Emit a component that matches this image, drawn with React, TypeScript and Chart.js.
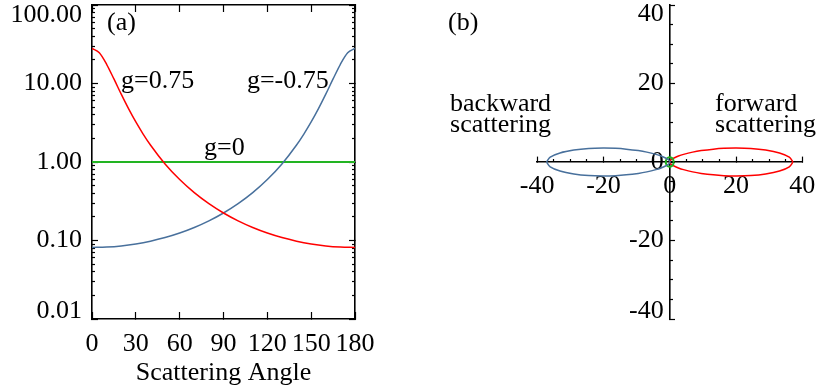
import React, { useEffect, useRef } from 'react';
import { Chart, registerables } from 'chart.js';

Chart.register(...registerables);

// ---------- Panel (a): phase function vs scattering angle ----------
const forwardAngles = [0, 5, 10, 15, 20, 25, 30, 35, 40, 50, 60, 70, 80, 90, 100, 110, 120, 130, 140, 150, 160, 170, 180];
const forwardPhase = [28.0, 24.56, 17.57, 11.43, 7.313, 4.782, 3.235, 2.269, 1.646, 0.9453, 0.5974, 0.4069, 0.2945, 0.224, 0.1778, 0.1463, 0.1244, 0.1089, 0.098, 0.0904, 0.0854, 0.0826, 0.0816];
const backwardAngles = [0, 10, 20, 30, 40, 50, 60, 70, 80, 90, 100, 110, 120, 130, 140, 145, 150, 155, 160, 165, 170, 175, 180];
const backwardPhase = [0.0816, 0.0826, 0.0854, 0.0904, 0.098, 0.1089, 0.1244, 0.1463, 0.1778, 0.224, 0.2945, 0.4069, 0.5974, 0.9453, 1.646, 2.269, 3.235, 4.782, 7.313, 11.43, 17.57, 24.56, 28.0];
const isotropicAngles = [0, 180];
const isotropicPhase = [1, 1];
const angleTicks = [0, 30, 60, 90, 120, 150, 180];
const phaseTicks = [0.01, 0.1, 1, 10, 100];
const phaseTickLabels = ['0.01', '0.10', '1.00', '10.00', '100.00'];
const phaseMinorTicks = [
  0.02, 0.03, 0.04, 0.05, 0.06, 0.07, 0.08, 0.09,
  0.2, 0.3, 0.4, 0.5, 0.6, 0.7, 0.8, 0.9,
  2, 3, 4, 5, 6, 7, 8, 9,
  20, 30, 40, 50, 60, 70, 80, 90,
];

// ---------- Panel (b): polar plot ----------
const lobeAngles = [0, 2, 4, 6, 8, 10, 12, 14, 17, 20, 25, 30, 40, 50, 60, 75, 90, 120, 150, 180];
const lobeRadius = [37.2, 36.1, 33.2, 29.1, 24.7, 20.4, 16.7, 13.55, 9.93, 7.35, 4.6, 3.03, 1.48, 0.84, 0.524, 0.299, 0.194, 0.107, 0.078, 0.07];
const circleAngles = [0, 30, 60, 90, 120, 150, 180, 210, 240, 270, 300, 330, 360];
const circleRadius = [1.2, 1.2, 1.2, 1.2, 1.2, 1.2, 1.2, 1.2, 1.2, 1.2, 1.2, 1.2, 1.2];
const polarTicks = [-40, -20, 0, 20, 40];
const polarMinorTicks = [-35, -30, -25, -15, -10, -5, 5, 10, 15, 25, 30, 35];

const RED = '#ff0000';
const BLUE = '#48709c';
const GREEN = '#22b422';
const FAMILY = '"Liberation Serif", "Times New Roman", serif';
const FONT = { family: FAMILY, size: 26 };

const toPoints = (xs: number[], ys: number[]) => xs.map((x, i) => ({ x, y: ys[i] }));

function lobePoints(sign: number) {
  const pts: { x: number; y: number }[] = [];
  for (let i = 0; i < lobeAngles.length; i++) {
    const a = (lobeAngles[i] * Math.PI) / 180;
    pts.push({ x: sign * lobeRadius[i] * Math.cos(a), y: lobeRadius[i] * Math.sin(a) });
  }
  for (let i = lobeAngles.length - 2; i >= 0; i--) {
    const a = (lobeAngles[i] * Math.PI) / 180;
    pts.push({ x: sign * lobeRadius[i] * Math.cos(a), y: -lobeRadius[i] * Math.sin(a) });
  }
  return pts;
}

function circlePoints() {
  return circleAngles.map((d, i) => {
    const a = (d * Math.PI) / 180;
    return { x: circleRadius[i] * Math.cos(a), y: circleRadius[i] * Math.sin(a) };
  });
}

const tickGrid = (len: number) => ({
  display: true,
  drawOnChartArea: false,
  drawTicks: true,
  tickLength: -len,
  tickColor: '#000',
  tickWidth: 1.2,
});
const axisBorder = { display: true, color: '#000', width: 1.6 };
const noBorder = { display: false };
const setTicks = (values: number[]) => (scale: any) => {
  scale.ticks = values.map((v) => ({ value: v }));
};
const fixSize = (w: number | null, h: number | null) => (scale: any) => {
  if (w !== null) scale.width = w;
  if (h !== null) scale.height = h;
  scale.paddingTop = 0;
  scale.paddingBottom = 0;
  scale.paddingLeft = 0;
  scale.paddingRight = 0;
};

const panelTextPlugin = {
  id: 'panelText',
  beforeDraw(chart: any, _args: any, opts: any) {
    const nudges = (opts && opts.nudge) || {};
    Object.keys(nudges).forEach((id) => {
      const scale = chart.scales[id];
      if (!scale) return;
      const spec = nudges[id];
      const all = spec.all || [0, 0];
      const items = scale.getLabelItems();
      for (const it of items) {
        const own = spec[String(it.label)] || [0, 0];
        if (it.options && it.options.translation) {
          it.options.translation[0] += all[0] + own[0];
          it.options.translation[1] += all[1] + own[1];
        }
      }
    });
  },
  afterDraw(chart: any, _args: any, opts: any) {
    const ctx = chart.ctx;
    ctx.save();
    ctx.font = `26px ${FAMILY}`;
    ctx.fillStyle = '#000';
    ctx.textAlign = 'left';
    ctx.textBaseline = 'alphabetic';
    for (const t of (opts && opts.texts) || []) {
      const x = chart.scales.x.getPixelForValue(t.x);
      const y = chart.scales.y.getPixelForValue(t.y);
      ctx.fillText(t.text, x, y);
    }
    ctx.restore();
  },
};

function configA(): any {
  return {
    type: 'scatter',
    data: {
      datasets: [
        { label: 'g=0.75', data: toPoints(forwardAngles, forwardPhase), borderColor: RED, borderWidth: 1.5, showLine: true, pointRadius: 0, cubicInterpolationMode: 'monotone' },
        { label: 'g=-0.75', data: toPoints(backwardAngles, backwardPhase), borderColor: BLUE, borderWidth: 1.5, showLine: true, pointRadius: 0, cubicInterpolationMode: 'monotone' },
        { label: 'g=0', data: toPoints(isotropicAngles, isotropicPhase), borderColor: GREEN, borderWidth: 2, showLine: true, pointRadius: 0 },
      ],
    },
    options: {
      responsive: false,
      animation: false,
      events: [],
      layout: { padding: { left: 0, top: 5, right: 55, bottom: 0 } },
      plugins: {
        legend: { display: false },
        tooltip: { enabled: false },
        panelText: {
          nudge: { y: { '100.00': [0, 10], '0.01': [0, -8] } },
          texts: [
            { text: '(a)', x: 10.3, y: 48 },
            { text: 'g=0.75', x: 19.9, y: 8.76 },
            { text: 'g=-0.75', x: 106, y: 8.76 },
            { text: 'g=0', x: 76.7, y: 1.228 },
          ],
        },
      },
      scales: {
        x: {
          type: 'linear', axis: 'x', position: 'bottom', min: 0, max: 180, weight: 1,
          afterBuildTicks: setTicks(angleTicks), afterFit: fixSize(null, 73),
          grid: tickGrid(7), border: axisBorder,
          ticks: { autoSkip: false, maxRotation: 0, padding: 17, font: FONT, color: '#000', callback: (v: any) => String(v) },
          title: { display: true, text: 'Scattering Angle', font: FONT, color: '#000', padding: { top: 0, bottom: 3 } },
        },
        xTop: {
          type: 'linear', axis: 'x', position: 'top', min: 0, max: 180,
          afterBuildTicks: setTicks(angleTicks), afterFit: fixSize(null, 0),
          grid: tickGrid(7), border: axisBorder, ticks: { display: false },
        },
        y: {
          type: 'logarithmic', axis: 'y', position: 'left', min: 0.01, max: 100, weight: 2,
          afterBuildTicks: setTicks(phaseTicks), afterFit: fixSize(92, null),
          grid: tickGrid(6), border: axisBorder,
          ticks: { autoSkip: false, padding: 16, font: FONT, color: '#000', callback: (_v: any, i: number) => phaseTickLabels[i] },
        },
        yMinor: {
          type: 'logarithmic', axis: 'y', position: 'left', min: 0.01, max: 100, weight: 0,
          afterBuildTicks: setTicks(phaseMinorTicks), afterFit: fixSize(0, null),
          grid: tickGrid(3), border: noBorder, ticks: { display: false },
        },
        yRight: {
          type: 'logarithmic', axis: 'y', position: 'right', min: 0.01, max: 100, weight: 0,
          afterBuildTicks: setTicks(phaseTicks), afterFit: fixSize(0, null),
          grid: tickGrid(6), border: axisBorder, ticks: { display: false },
        },
        yRightMinor: {
          type: 'logarithmic', axis: 'y', position: 'right', min: 0.01, max: 100, weight: 0,
          afterBuildTicks: setTicks(phaseMinorTicks), afterFit: fixSize(0, null),
          grid: tickGrid(3), border: noBorder, ticks: { display: false },
        },
      },
    },
    plugins: [panelTextPlugin],
  };
}

function configB(): any {
  return {
    type: 'scatter',
    data: {
      datasets: [
        { label: 'g=-0.75', data: lobePoints(-1), borderColor: BLUE, borderWidth: 1.5, showLine: true, pointRadius: 0, tension: 0.3 },
        { label: 'g=0', data: circlePoints(), borderColor: GREEN, borderWidth: 2, showLine: true, pointRadius: 0, tension: 0.4 },
        { label: 'g=0.75', data: lobePoints(1), borderColor: RED, borderWidth: 1.5, showLine: true, pointRadius: 0, tension: 0.3 },
      ],
    },
    options: {
      responsive: false,
      animation: false,
      events: [],
      layout: { padding: { left: 127.2, top: 5, right: 15.7, bottom: 73 } },
      plugins: {
        legend: { display: false },
        tooltip: { enabled: false },
        panelText: {
          nudge: { y: { all: [-6, 0], '40': [0, 9.5], '-40': [0, -7.5] } },
          texts: [
            { text: '(b)', x: -66.9, y: 33.6 },
            { text: 'backward', x: -66.3, y: 13.0 },
            { text: 'scattering', x: -66.3, y: 7.64 },
            { text: 'forward', x: 13.67, y: 13.0 },
            { text: 'scattering', x: 13.67, y: 7.64 },
          ],
        },
      },
      scales: {
        x: {
          type: 'linear', axis: 'x', position: { y: 0 }, min: -40, max: 40,
          afterBuildTicks: setTicks(polarTicks), afterFit: fixSize(null, null),
          grid: tickGrid(6), border: axisBorder,
          ticks: { autoSkip: false, maxRotation: 0, padding: 15, font: FONT, color: '#000', callback: (v: any) => String(v) },
        },
        xMinor: {
          type: 'linear', axis: 'x', position: { y: 0 }, min: -40, max: 40,
          afterBuildTicks: setTicks(polarMinorTicks), afterFit: fixSize(null, null),
          grid: tickGrid(3), border: noBorder, ticks: { display: false },
        },
        y: {
          type: 'linear', axis: 'y', position: { x: 0 }, min: -40, max: 40,
          afterBuildTicks: setTicks(polarTicks), afterFit: fixSize(null, null),
          grid: tickGrid(6), border: axisBorder,
          ticks: { autoSkip: false, padding: 7, font: FONT, color: '#000', callback: (v: any) => String(v) },
        },
        yMinor: {
          type: 'linear', axis: 'y', position: { x: 0 }, min: -40, max: 40,
          afterBuildTicks: setTicks(polarMinorTicks), afterFit: fixSize(null, null),
          grid: tickGrid(3), border: noBorder, ticks: { display: false },
        },
      },
    },
    plugins: [panelTextPlugin],
  };
}

export default function App() {
  const leftRef = useRef<HTMLCanvasElement>(null);
  const rightRef = useRef<HTMLCanvasElement>(null);

  useEffect(() => {
    const a = new Chart(leftRef.current as HTMLCanvasElement, configA());
    const b = new Chart(rightRef.current as HTMLCanvasElement, configB());
    return () => {
      a.destroy();
      b.destroy();
    };
  }, []);

  return (
    <div style={{ position: 'fixed', left: 0, top: 0, width: 818, height: 392, background: '#fff' }}>
      <canvas ref={leftRef} width={410} height={392} style={{ position: 'absolute', left: 0, top: 0 }} />
      <canvas ref={rightRef} width={408} height={392} style={{ position: 'absolute', left: 410, top: 0 }} />
    </div>
  );
}
